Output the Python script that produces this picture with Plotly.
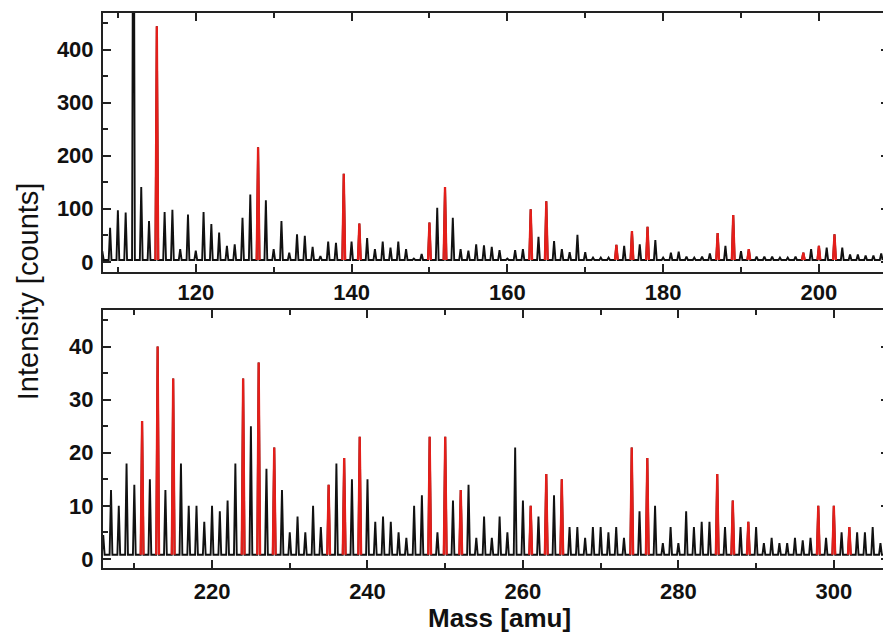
import plotly.graph_objects as go

# ---------------- data ----------------
# Upper panel: integer masses 108..208 and peak intensities (counts)
top_mass = list(range(108, 209))
top_int = [20, 64, 97, 93, 1000, 141, 77, 444, 94, 98,
           24, 89, 21, 94, 71, 55, 30, 33, 83, 127,
           216, 116, 24, 77, 17, 52, 49, 28, 11, 38,
           36, 166, 38, 72, 45, 24, 38, 27, 38, 24,
           6, 15, 74, 102, 141, 83, 24, 21, 33, 31,
           28, 22, 6, 22, 24, 99, 47, 114, 39, 24,
           18, 51, 18, 8, 8, 8, 32, 30, 58, 33,
           66, 41, 8, 17, 19, 10, 8, 10, 16, 54,
           30, 88, 20, 24, 10, 10, 10, 8, 8, 10,
           17, 24, 30, 27, 52, 27, 14, 14, 12, 12,
           16]
top_red = [115, 128, 139, 141, 150, 152, 163, 165, 174, 176, 178,
           187, 189, 191, 198, 200, 202]

# Lower panel: integer masses 206..307
bot_mass = list(range(206, 308))
bot_int = [4.5, 13, 10, 18, 14, 26, 15, 40, 13, 34,
           18, 10, 10, 7, 10, 9, 11, 18, 34, 25,
           37, 17, 21, 13, 5, 8, 5, 10, 6, 14,
           18, 19, 15, 23, 15, 7, 8, 7, 5, 4,
           10, 12, 23, 5, 23, 11, 13, 14, 4, 8,
           4, 8, 5, 21, 11, 10, 8, 16, 12, 15,
           6, 6, 4, 6, 6, 5, 6, 4, 21, 9,
           19, 10, 3, 6, 3, 9, 6, 7, 7, 16,
           6, 11, 6, 7, 6, 3, 4, 3, 3, 4,
           3.5, 4, 10, 4, 10, 5, 6, 5, 5, 6,
           3, 4]
bot_red = [211, 213, 215, 224, 226, 228, 235, 237, 239, 248, 250,
           252, 261, 263, 265, 274, 276, 285, 287, 289, 298, 300, 302]

top_base = 3.5
bot_base = 0.8
HALF_W = 0.18  # peak half width (amu) of the drawn line profile


def spikes(masses, ints, base, subset=None):
    xs, ys = [], []
    for m, h in zip(masses, ints):
        if subset is not None and m not in subset:
            continue
        xs += [m - HALF_W, m, m + HALF_W]
        ys += [base, h, base]
        if subset is not None:
            xs.append(None)
            ys.append(None)
    return xs, ys


fig = go.Figure()

for masses, ints, red, base, xa, ya in [
    (top_mass, top_int, top_red, top_base, "x", "y"),
    (bot_mass, bot_int, bot_red, bot_base, "x2", "y2"),
]:
    bx, by = spikes(masses, ints, base)
    fig.add_trace(go.Scatter(x=bx, y=by, mode="lines",
                             line=dict(color="#111111", width=1.9),
                             xaxis=xa, yaxis=ya, showlegend=False,
                             hoverinfo="skip"))
    rx, ry = spikes(masses, ints, base, set(red))
    fig.add_trace(go.Scatter(x=rx, y=ry, mode="lines",
                             line=dict(color="#e41e1a", width=2.3),
                             xaxis=xa, yaxis=ya, showlegend=False,
                             hoverinfo="skip", connectgaps=False))

FONT = "Liberation Sans, Arial, sans-serif"
tickfont = dict(family=FONT, size=22, color="#111111", weight="bold")
axis_common = dict(showline=True, linewidth=2, linecolor="#222222",
                   mirror="ticks", ticks="inside", ticklen=8, tickwidth=2,
                   tickcolor="#222222", showgrid=False, zeroline=False,
                   tickfont=tickfont)
minor_common = dict(ticklen=5, tickwidth=2, ticks="inside", tickcolor="#222222")

# page body has an 8px margin: plot area spans x 103..891, y 13..568 on screen
fig.update_layout(
    width=883, height=624,
    margin=dict(l=95, r=0, t=5, b=64),
    paper_bgcolor="white", plot_bgcolor="white",
    xaxis=dict(domain=[0, 1], anchor="y", range=[108.09, 209.0],
               tick0=100, dtick=20, minor=dict(dtick=10, **minor_common),
               ticklabelstandoff=0, **axis_common),
    yaxis=dict(domain=[0.534, 1], anchor="x", range=[-18.5, 469],
               tick0=0, dtick=100, minor=dict(dtick=50, **minor_common),
               ticklabelstandoff=3, **axis_common),
    xaxis2=dict(domain=[0, 1], anchor="y2", range=[205.97, 307.1],
                tick0=200, dtick=20, minor=dict(dtick=10, **minor_common),
                ticklabelstandoff=3, **axis_common),
    yaxis2=dict(domain=[0, 0.4649], anchor="x2", range=[-1.7, 46.9],
                tick0=0, dtick=10, minor=dict(dtick=5, **minor_common),
                ticklabelstandoff=3, **axis_common),
    annotations=[
        dict(text="Intensity [counts]", xref="paper", yref="paper",
             x=-0.0952, y=0.499, xanchor="center", yanchor="middle",
             textangle=-90, showarrow=False,
             font=dict(family=FONT, size=29, color="#111111")),
        dict(text="<b>Mass [amu]</b>", xref="paper", yref="paper",
             x=0.504, y=-0.09, xanchor="center", yanchor="middle",
             showarrow=False,
             font=dict(family=FONT, size=26, color="#111111")),
    ],
)

fig.write_html("out.html")
